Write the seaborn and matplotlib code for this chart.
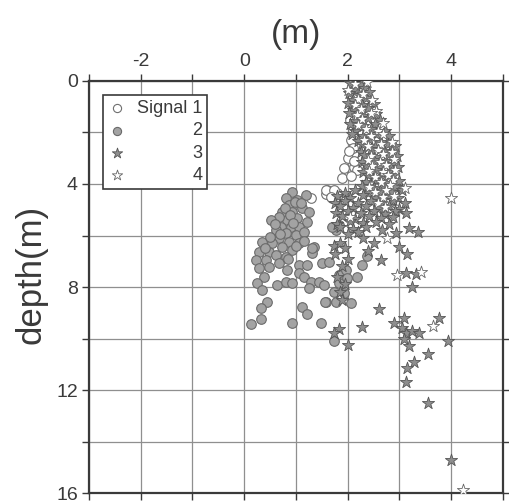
import matplotlib
matplotlib.use("Agg")
import matplotlib.pyplot as plt
import seaborn as sns
import pandas as pd
from matplotlib.ticker import MultipleLocator, FixedLocator
from matplotlib.transforms import Affine2D

# Offsets (m) and depths (m) for each signal
sig1_x = [2.07, 2.10, 2.00, 2.13, 1.93, 2.19, 1.90, 2.07, 1.60, 1.70, 1.70, 1.59, 1.80,
          1.59, 1.74, 1.68, 1.30, 2.05, 2.10, 2.20, 2.03, 2.12]
sig1_y = [2.29, 2.60, 3.00, 3.33, 3.38, 3.45, 3.77, 3.70, 4.24, 4.30, 4.55, 4.40, 4.35,
          4.23, 4.23, 4.50, 4.55, 1.50, 1.90, 2.00, 2.70, 3.10]

sig2_x = [0.93, 1.20, 0.81, 1.03, 0.87, 1.12, 1.26, 0.74, 0.93, 0.83, 1.03, 0.68, 1.22,
          0.52, 0.72, 0.91, 1.06, 0.62, 0.81, 1.01, 0.68, 0.87, 1.06, 0.54, 0.74, 0.35,
          0.93, 1.35, 1.32, 0.29, 0.48, 0.62, 0.81, 0.43, 0.23, 0.68, 1.78,
          0.29, 0.48, 0.83, 0.39, 0.25, 0.35, 0.64, 0.81, 0.93, 1.06, 1.22, 1.06, 1.16,
          1.30, 1.26, 1.45, 1.55, 1.51, 1.64, 1.84, 1.97, 1.99, 1.84, 1.93, 1.74, 1.78,
          2.07, 2.19, 2.28, 0.45, 0.33, 1.12, 1.22, 1.59, 0.14, 0.33, 0.93, 1.49, 1.74,
          2.38, 1.70, 1.84, 1.32, 1.57, 0.98, 1.10, 0.78, 0.88, 0.60, 0.95, 1.15, 0.70,
          0.50, 0.40, 1.00, 0.85, 1.15]
sig2_y = [4.30, 4.43, 4.55, 4.62, 4.82, 4.93, 5.09, 5.09, 5.09, 5.40, 5.32, 5.28, 5.48,
          5.40, 5.67, 5.67, 5.67, 5.79, 5.91, 5.98, 6.10, 6.25, 6.29, 6.29, 6.45, 6.25,
          6.56, 6.45, 6.68, 6.64, 6.64, 6.76, 6.84, 6.95, 6.95, 7.07, 5.79,
          7.26, 7.22, 7.34, 7.61, 7.84, 8.12, 7.92, 7.80, 7.84, 7.15, 7.15, 7.46, 7.61,
          7.80, 8.04, 7.80, 7.92, 7.07, 7.03, 7.53, 7.34, 7.65, 7.84, 8.23, 8.19, 8.58,
          8.62, 7.61, 7.15, 8.58, 8.82, 8.78, 9.05, 8.58, 9.44, 9.24, 9.40, 9.40, 10.10,
          6.80, 5.67, 5.60, 6.50, 8.60, 4.70, 4.75, 4.95, 5.20, 5.55, 5.50, 5.85, 5.95,
          6.05, 6.50, 6.40, 6.90, 6.20]

sig3_x = [2.05, 2.25,
          2.12, 2.32,
          2.02, 2.22, 2.42,
          2.10, 2.35,
          2.00, 2.28, 2.50,
          2.10, 2.40,
          2.03, 2.30, 2.55,
          2.15, 2.40, 2.62,
          2.05, 2.30, 2.52,
          2.15, 2.45, 2.72,
          2.08, 2.30, 2.55, 2.80,
          2.20, 2.42, 2.65,
          2.28, 2.52, 2.78, 2.92,
          2.25, 2.45, 2.70,
          2.32, 2.55, 2.80, 2.95,
          2.28, 2.50, 2.72,
          2.35, 2.60, 2.85, 2.98,
          2.30, 2.55, 2.78,
          2.40, 2.62, 2.88,
          2.35, 2.55, 2.75, 3.00,
          2.28, 2.50, 2.70, 2.92,
          1.95, 2.15, 2.40, 2.62, 2.85, 3.05,
          1.80, 2.05, 2.30, 2.55, 2.78, 2.98,
          1.75, 1.95, 2.20, 2.45, 2.65, 2.88, 3.10,
          1.85, 2.10, 2.35, 2.60, 2.80, 3.00,
          1.78, 2.00, 2.25, 2.50, 2.72, 2.92, 3.12,
          1.90, 2.15, 2.42, 2.65, 2.88,
          1.80, 2.05, 2.30, 2.55, 2.80,
          1.85, 2.10, 2.35,
          2.00, 2.20,
          3.19, 3.35, 2.67, 2.94, 1.74, 3.00, 3.15, 2.65, 3.13, 3.33, 3.25,
          2.61, 2.28, 1.84, 1.74, 2.01, 2.90, 3.09, 3.06, 3.13, 3.25, 3.38, 3.09, 3.19,
          3.77, 3.93, 3.56, 3.29, 3.15, 3.13, 3.56, 4.00,
          1.85, 1.95, 1.75, 2.00, 1.90, 1.80, 1.95, 1.85, 1.90, 2.30, 2.50, 2.40]
sig3_y = [0.06, 0.14,
          0.33, 0.26,
          0.47, 0.55, 0.44,
          0.74, 0.66,
          0.86, 0.95, 0.88,
          1.14, 1.05,
          1.26, 1.35, 1.28,
          1.54, 1.45, 1.52,
          1.66, 1.75, 1.68,
          1.94, 1.86, 1.93,
          2.06, 2.15, 2.04, 2.12,
          2.34, 2.26, 2.35,
          2.46, 2.55, 2.44, 2.53,
          2.74, 2.65, 2.72,
          2.86, 2.95, 2.84, 2.93,
          3.14, 3.05, 3.12,
          3.26, 3.35, 3.24, 3.33,
          3.54, 3.46, 3.55,
          3.66, 3.75, 3.64,
          3.94, 3.85, 3.96, 3.88,
          4.06, 4.15, 4.04, 4.13,
          4.34, 4.25, 4.36, 4.27, 4.33, 4.24,
          4.46, 4.55, 4.44, 4.53, 4.47, 4.56,
          4.74, 4.65, 4.73, 4.66, 4.75, 4.64, 4.72,
          4.86, 4.95, 4.84, 4.93, 4.87, 4.96,
          5.14, 5.05, 5.13, 5.04, 5.15, 5.06, 5.12,
          5.26, 5.35, 5.24, 5.33, 5.27,
          5.54, 5.45, 5.53, 5.46, 5.55,
          5.66, 5.75, 5.68,
          5.94, 5.86,
          5.70, 5.85, 5.80, 5.90, 6.40, 6.45, 6.70, 6.95, 7.45, 7.50, 8.00,
          8.85, 9.55, 9.65, 9.80, 10.25, 9.40, 9.20, 9.60, 9.80, 9.70, 9.80, 10.00, 10.30,
          9.20, 10.10, 10.60, 10.90, 11.15, 11.70, 12.50, 14.70,
          6.30, 6.50, 6.70, 6.90, 7.20, 7.60, 7.90, 8.20, 8.50, 6.10, 6.30, 6.60]

sig4_x = [2.15, 2.38, 2.00, 2.30, 2.20, 2.48, 2.15, 2.25, 2.55, 2.18, 2.45, 2.28,
          2.20, 2.68, 2.35, 2.58, 2.45, 2.68, 2.32, 2.85, 2.40, 2.65, 2.58, 2.85,
          2.45, 2.68, 2.40, 2.62, 2.90, 2.48, 2.75, 2.42, 2.68, 2.92, 2.52, 2.78,
          2.65, 2.88, 2.42, 2.82, 3.10, 2.52, 2.75, 2.68, 2.90, 2.58, 2.72, 2.05,
          4.00, 2.77, 2.96, 3.42, 3.64, 4.22]
sig4_y = [0.12, 0.05, 0.35, 0.52, 0.68, 0.75, 0.92, 1.08, 1.15, 1.33, 1.24, 1.48,
          1.72, 1.65, 1.88, 1.95, 2.12, 2.05, 2.28, 2.35, 2.52, 2.45, 2.68, 2.75,
          2.92, 2.85, 3.08, 3.15, 3.04, 3.32, 3.25, 3.48, 3.55, 3.45, 3.72, 3.65,
          3.92, 3.86, 4.12, 4.05, 4.15, 4.32, 4.25, 4.52, 4.45, 4.72, 4.88, 5.30,
          4.55, 6.10, 7.55, 7.40, 9.50, 15.90]

x_ticks = [-2, 0, 2, 4]
y_ticks = [0, 4, 8, 12, 16]

sns.set_theme(style="white")
plt.rcParams["font.family"] = ["Liberation Sans", "DejaVu Sans"]
plt.rcParams["text.color"] = "#3a3a3a"
plt.rcParams["axes.unicode_minus"] = False

fig = plt.figure(figsize=(5.10, 5.04), dpi=100)
ax = fig.add_axes([0.1745, 0.0218, 0.8115, 0.8175])

ink = "#3a3a3a"
grid_c = "#8f8f8f"

df1 = pd.DataFrame({"x": sig1_x, "depth": sig1_y})
df2 = pd.DataFrame({"x": sig2_x, "depth": sig2_y})
df3 = pd.DataFrame({"x": sig3_x, "depth": sig3_y})
df4 = pd.DataFrame({"x": sig4_x, "depth": sig4_y})

sns.scatterplot(data=df1, x="x", y="depth", ax=ax, marker="o", s=48,
                color="white", edgecolor="#707070", linewidth=0.8, label="Signal 1", zorder=3)
sns.scatterplot(data=df2, x="x", y="depth", ax=ax, marker="o", s=48,
                color="#a3a3a3", edgecolor="#6a6a6a", linewidth=0.8, label="2", zorder=3)
sns.scatterplot(data=df3, x="x", y="depth", ax=ax, marker="*", s=85,
                color="#8e8e8e", edgecolor="#555555", linewidth=0.6, label="3", zorder=3)
sns.scatterplot(data=df4, x="x", y="depth", ax=ax, marker="*", s=85,
                color="white", edgecolor="#666666", linewidth=0.6, label="4", zorder=3)

ax.set_xlim(-3, 5)
ax.set_ylim(16, 0)
ax.xaxis.set_major_locator(FixedLocator(x_ticks))
ax.xaxis.set_minor_locator(MultipleLocator(1))
ax.yaxis.set_major_locator(FixedLocator(y_ticks))
ax.yaxis.set_minor_locator(MultipleLocator(2))
ax.xaxis.tick_top()
ax.xaxis.set_label_position("top")
ax.tick_params(axis="both", which="both", direction="out", length=5, width=1,
               color=ink, labelsize=14, labelcolor=ink, pad=3,
               top=True, bottom=True, left=True, right=True,
               labeltop=True, labelbottom=False, labelleft=True, labelright=False)
ax.grid(True, which="both", color=grid_c, linewidth=0.9)
ax.set_axisbelow(True)
for sp in ax.spines.values():
    sp.set_color(ink)
    sp.set_linewidth(1.6)

ax.set_xlabel("(m)", fontsize=24, color=ink, labelpad=7)
ax.set_ylabel("depth(m)", fontsize=25, color=ink)
ax.yaxis.set_label_coords(-0.10, 0.53)

leg = ax.legend(loc="upper left", bbox_to_anchor=(0.035, 0.965), fontsize=13,
                frameon=True, fancybox=False, framealpha=1, edgecolor=ink,
                handletextpad=0.6, borderpad=0.25, labelspacing=0.3,
                handlelength=1.0, borderaxespad=0, markerscale=0.85)
leg.get_frame().set_linewidth(1.2)

# right-align the legend labels under "Signal 1"
fig.canvas.draw()
renderer = fig.canvas.get_renderer()
texts = leg.get_texts()
right = max(t.get_window_extent(renderer).x1 for t in texts)
for t in texts:
    dx = right - t.get_window_extent(renderer).x1
    t.set_transform(t.get_transform() + Affine2D().translate(dx, 0))

fig.savefig("out.png", dpi=100)
